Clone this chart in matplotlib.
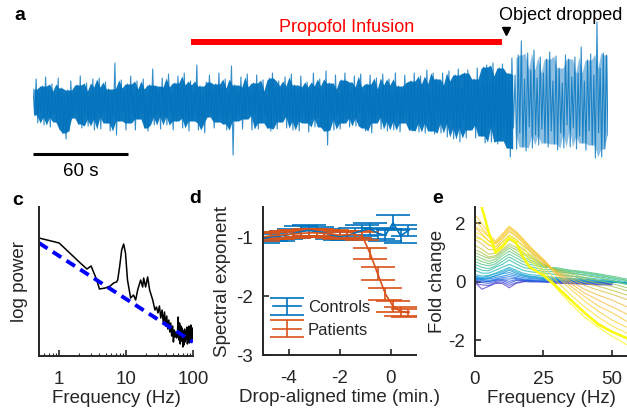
import numpy as np
import matplotlib.pyplot as plt
from matplotlib.colors import LinearSegmentedColormap

plt.rcParams['font.family'] = ['Liberation Sans', 'DejaVu Sans']
plt.rcParams['font.size'] = 13.5
plt.rcParams['axes.linewidth'] = 1.4
plt.rcParams['axes.edgecolor'] = '#262626'
plt.rcParams['text.color'] = '#262626'
plt.rcParams['axes.labelcolor'] = '#262626'
plt.rcParams['xtick.color'] = '#262626'
plt.rcParams['ytick.color'] = '#262626'

# --- panel a: EEG trace, upper / lower excursion per 2 s bin (a.u.)
trace_hi = [14, 24, 10, 17, 26, 12, 19, 9, 25, 15,
            6, 13, 22, 11, 18, 27, 12, 20, 10, 24,
            16, 25, 11, 21, 14, 10, 40, 15, 23, 12,
            19, 27, 11, 22, 14, 24, 9, 18, 34, 17,
            13, 25, 16, 29, 11, 20, 27, 14, 30, 18,
            22, 12, 38, 17, 10, 21, 28, 13, 19, 30,
            15, 24, 11, 37, 18, 12, 26, 16, 29, 13,
            20, 28, 12, 23, 9, 25, 30, 14, 22, 17,
            26, 13, 29, 18, 11, 27, 16, 21, 12, 30,
            17, 24, 12, 32, 20, 14, 28, 11, 23, 30,
            21, 12, 27, 16, 29, 11, 19, 28, 14, 25,
            13, 29, 18, 24, 10, 30, 17, 12, 28, 20,
            22, 30, 14, 27, 19, 33, 12, 30, 24, 18,
            30, 17, 32, 22, 28, 34, 15, 30, 33, 21,
            24, 35, 18, 36, 38, 20, 40, 27, 35, 39,
            30, 22, 45, 28, 48, 62, 24, 50, 33, 53,
            25, 46, 30, 44, 51, 22, 47, 35, 20, 48,
            44, 26, 46, 30, 56, 22, 43, 49, 28, 81, 35, 50, 48]
trace_lo = [-12, -20, -9, -22, -14, -24, -11, -19, -26, -30,
            -36, -28, -15, -10, -21, -25, -12, -23, -16, -27,
            -14, -26, -11, -20, -28, -13, -32, -18, -10, -27,
            -20, -12, -27, -16, -10, -25, -28, -14, -22, -11,
            -26, -13, -22, -10, -27, -18, -12, -25, -15, -28,
            -18, -11, -27, -20, -30, -14, -10, -25, -19, -13,
            -21, -27, -12, -52, -18, -11, -26, -16, -10, -27,
            -12, -26, -20, -11, -25, -28, -14, -26, -19, -10,
            -25, -13, -27, -18, -28, -11, -20, -29, -15, -24,
            -14, -24, -28, -42, -16, -27, -12, -26, -20, -13,
            -24, -15, -23, -11, -25, -28, -14, -30, -20, -12,
            -26, -14, -28, -18, -27, -13, -29, -20, -11, -27,
            -28, -15, -29, -20, -30, -14, -28, -31, -17, -30,
            -20, -34, -16, -36, -25, -39, -18, -35, -27, -22,
            -35, -20, -33, -40, -24, -39, -22, -41, -38, -25,
            -45, -54, -25, -46, -30, -44, -48, -24, -45, -32,
            -42, -26, -40, -44, -28, -41, -47, -30, -45, -22,
            -44, -25, -46, -33, -40, -47, -28, -42, -55, -30, -54, -46, -32]
infusion_start, infusion_end = 100, 298   # s
drop_time = 300                           # s

# --- panel c: power spectrum (log power, a.u.)
freq_c = [0.5, 1.0, 2.07, 2.6, 3.0, 3.6, 4.0, 4.9, 5.8, 6.5, 7.2, 7.5, 8.0,
          8.6, 9.2, 9.8, 10.5, 11.7, 12.9, 13.9, 14.9, 16.5, 17.7, 18.3,
          19.6, 21.0, 22.5, 25.0, 27.0, 28.5,
          30.0, 31.5, 33.0, 34.5, 36.0, 37.5, 39.0, 40.5, 42.0, 43.5, 45.0,
          46.5, 48.0, 49.5, 51.0, 52.5, 54.0, 55.5, 57.0, 58.5, 60.0, 61.5,
          63.0, 64.5, 66.0, 67.5, 69.0, 70.5, 72.0, 73.5, 75.0, 76.5, 78.0,
          79.5, 81.0, 82.5, 84.0, 85.5, 87.0, 88.5, 90.0, 91.5, 93.0, 94.5,
          96.0, 97.5, 99.0, 100.0]
power_c = [118, 113, 93, 87, 90, 77, 67, 68, 70, 73, 74, 76, 89,
           106, 112, 103, 76, 58, 61, 56, 66, 76, 69, 78,
           69, 79, 66, 56, 46, 49,
           43, 50, 38, 46, 33, 44, 30, 40, 27, 36, 24,
           33, 20, 30, 14, 26, 19, 24, 18, 22, 39, 16,
           33, 12, 30, 15, 28, 9, 25, 11, 27, 14, 24,
           17, 29, 12, 26, 16, 30, 13, 24, 18, 31, 14,
           22, 19, 28, 17]
fit_freq = [0.5, 100]
fit_power = [113, 14]

# --- panel d: spectral exponent, drop-aligned
time_d = [-5.0, -4.7, -4.4, -4.1, -3.8, -3.5, -3.2, -2.9, -2.6, -2.3,
          -2.0, -1.7, -1.4, -1.1, -0.8, -0.5, -0.2, 0.1, 0.4, 0.7]
controls_mean = [-1.02, -0.99, -0.98, -0.96, -0.93, -0.90, -0.88, -0.90, -0.92, -0.96,
                 -0.98, -0.97, -0.92, -0.88, -0.85, -0.93, -0.96, -0.75, -0.97, -0.88]
controls_err = [0.08, 0.07, 0.08, 0.07, 0.08, 0.09, 0.10, 0.08, 0.07, 0.07,
                0.07, 0.08, 0.09, 0.09, 0.10, 0.10, 0.10, 0.13, 0.12, 0.09]
patients_mean = [-0.99, -0.97, -0.96, -0.95, -0.94, -0.93, -0.92, -0.92, -0.93, -0.94,
                 -0.96, -0.95, -0.95, -0.98, -1.27, -1.62, -1.96, -2.17, -2.26, -2.28]
patients_err = [0.07, 0.06, 0.06, 0.06, 0.06, 0.06, 0.06, 0.06, 0.06, 0.06,
                0.06, 0.06, 0.06, 0.07, 0.10, 0.11, 0.10, 0.09, 0.08, 0.07]

# --- panel e: fold change spectra over time (blue = early, yellow = late)
freq_e = [0, 2.5, 5, 7.5, 10, 12.5, 15, 17.5, 20, 25, 30, 35, 40, 45, 50, 55.5]
nan = np.nan
fold_lines = [
    [0.00, -0.25, -0.15, -0.05, -0.05, -0.20, -0.05, 0.00, 0.05, 0.02, -0.05, -0.05, -0.08, -0.10, -0.10, nan],
    [-0.05, -0.10, -0.12, -0.02, 0.00, -0.12, -0.02, 0.02, 0.00, 0.00, -0.02, -0.06, -0.05, -0.08, -0.08, nan],
    [0.05, -0.02, -0.05, 0.02, 0.05, -0.05, 0.05, 0.05, 0.02, 0.02, 0.00, -0.02, -0.04, -0.05, -0.06, nan],
    [0.08, 0.00, 0.02, 0.05, 0.08, 0.02, 0.08, 0.06, 0.04, 0.00, 0.02, 0.00, -0.02, -0.03, -0.04, nan],
    [0.10, 0.05, 0.00, 0.08, 0.10, 0.10, 0.12, 0.08, 0.05, 0.02, 0.00, 0.02, 0.00, -0.02, -0.02, nan],
    [0.15, 0.08, 0.05, 0.10, 0.15, 0.18, 0.15, 0.10, 0.08, 0.05, 0.03, 0.02, 0.00, 0.00, -0.02, nan],
    [0.12, 0.10, 0.10, 0.15, 0.20, 0.25, 0.20, 0.15, 0.12, 0.08, 0.05, 0.05, 0.02, 0.00, 0.00, -0.02],
    [0.18, 0.12, 0.15, 0.20, 0.28, 0.32, 0.25, 0.20, 0.15, 0.10, 0.08, 0.05, 0.05, 0.02, 0.00, -0.03],
    [0.10, 0.10, 0.12, 0.22, 0.30, 0.40, 0.30, 0.22, 0.18, 0.12, 0.10, 0.08, 0.05, 0.02, 0.00, -0.05],
    [0.20, 0.15, 0.20, 0.28, 0.35, 0.45, 0.35, 0.25, 0.20, 0.15, 0.12, 0.10, 0.08, 0.05, 0.02, -0.05],
    [0.25, 0.20, 0.22, 0.30, 0.40, 0.50, 0.40, 0.30, 0.25, 0.20, 0.15, 0.12, 0.10, 0.05, 0.02, -0.08],
    [0.40, 0.30, 0.30, 0.40, 0.50, 0.60, 0.50, 0.40, 0.35, 0.30, 0.25, 0.20, 0.15, 0.10, 0.05, -0.05],
    [0.50, 0.40, 0.38, 0.50, 0.60, 0.75, 0.62, 0.50, 0.45, 0.35, 0.35, 0.30, 0.25, 0.18, 0.10, 0.00],
    [0.60, 0.50, 0.45, 0.55, 0.70, 0.85, 0.72, 0.60, 0.52, 0.42, 0.42, 0.35, 0.30, 0.22, 0.15, 0.05],
    [0.70, 0.60, 0.55, 0.62, 0.80, 0.95, 0.82, 0.70, 0.60, 0.50, 0.48, 0.40, 0.35, 0.28, 0.20, 0.10],
    [0.80, 0.70, 0.62, 0.70, 0.90, 1.05, 0.92, 0.78, 0.68, 0.52, 0.45, 0.38, 0.32, 0.25, 0.15, 0.05],
    [0.90, 0.80, 0.70, 0.78, 0.98, 1.15, 1.00, 0.85, 0.75, 0.55, 0.42, 0.32, 0.22, 0.15, 0.05, -0.08],
    [1.00, 0.90, 0.80, 0.85, 1.05, 1.22, 1.10, 0.95, 0.82, 0.58, 0.40, 0.28, 0.15, 0.05, -0.05, -0.20],
    [1.10, 1.00, 0.85, 0.90, 1.10, 1.30, 1.18, 1.00, 0.88, 0.60, 0.38, 0.22, 0.08, -0.05, -0.15, -0.30],
    [1.25, 1.12, 0.95, 0.98, 1.20, 1.45, 1.30, 1.12, 0.95, 0.62, 0.35, 0.15, -0.02, -0.15, -0.28, -0.45],
    [1.45, 1.30, 1.10, 1.10, 1.35, 1.60, 1.45, 1.25, 1.05, 0.68, 0.32, 0.10, -0.12, -0.28, -0.42, -0.60],
    [1.60, 1.45, 1.25, 1.20, 1.45, 1.72, 1.55, 1.35, 1.10, 0.70, 0.30, 0.02, -0.25, -0.45, -0.62, -0.85],
    [1.85, 1.65, 1.40, 1.30, 1.55, 1.82, 1.65, 1.42, 1.15, 0.75, 0.28, -0.05, -0.38, -0.62, -0.85, -1.10],
    [2.10, 1.85, 1.55, 1.35, 1.60, 1.88, 1.70, 1.45, 1.20, 0.78, 0.25, -0.15, -0.50, -0.82, -1.05, -1.35],
    [2.30, 2.00, 1.65, 1.40, 1.65, 1.90, 1.72, 1.48, 1.22, 0.72, 0.18, -0.25, -0.65, -1.00, -1.30, -1.55],
    [1.90, 1.75, 1.55, 1.30, 1.50, 1.75, 1.60, 1.35, 1.05, 0.55, 0.00, -0.45, -0.85, -1.20, -1.50, -1.75],
    [1.70, 1.60, 1.40, 1.20, 1.35, 1.60, 1.45, 1.20, 0.90, 0.40, -0.15, -0.60, -1.05, -1.40, -1.70, -1.95],
    [1.50, 1.45, 1.30, 1.10, 1.25, 1.50, 1.30, 1.05, 0.75, 0.30, -0.25, -0.75, -1.20, -1.55, -1.85, -2.15],
]
fold_last = [3.30, 2.55, 1.70, 1.00, 1.20, 1.50, 1.35, 0.85, 0.50, 0.22, -0.18, -0.62, -1.05, -1.45, -1.70, -1.92]

parula_like = LinearSegmentedColormap.from_list('parula_like', [
    (0.00, (0.28, 0.20, 0.78)), (0.15, (0.10, 0.40, 0.90)), (0.30, (0.05, 0.60, 0.85)),
    (0.42, (0.10, 0.72, 0.72)), (0.55, (0.35, 0.78, 0.45)), (0.68, (0.70, 0.76, 0.25)),
    (0.80, (0.98, 0.72, 0.25)), (0.90, (0.97, 0.82, 0.18)), (1.00, (0.98, 0.98, 0.05))])

mat_blue = (0.0, 0.447, 0.741)
mat_orange = (0.85, 0.325, 0.098)

fig = plt.figure(figsize=(6.27, 4.11), dpi=100)


def px_axes(left, top, right, bottom):
    return fig.add_axes([left / 627, 1 - bottom / 411, (right - left) / 627, (bottom - top) / 411])


def matlab_style(ax):
    for s in ('top', 'right'):
        ax.spines[s].set_visible(False)
    ax.tick_params(direction='in', length=4, width=1.2)
    ax.tick_params(axis='x', pad=11)
    ax.tick_params(axis='y', pad=7)


# panel a: dense core (typical excursion of neighbouring bins) plus the thin excursions;
# after the drop the slow, large waves leave gaps, so the core is lighter there
ax_a = px_axes(33, 0, 608, 190)
ax_a.axis('off')
hi = np.array(trace_hi, float)
lo = np.array(trace_lo, float)
pad_hi = np.concatenate([[hi[0]], hi, [hi[-1]]])
pad_lo = np.concatenate([[lo[0]], lo, [lo[-1]]])
core_hi = np.median(np.vstack([pad_hi[:-2], pad_hi[1:-1], pad_hi[2:]]), axis=0)
core_lo = np.median(np.vstack([pad_lo[:-2], pad_lo[1:-1], pad_lo[2:]]), axis=0)
t_bin = np.arange(len(hi)) * 2.0 + 0.5
before = t_bin <= drop_time + 6
ax_a.fill_between(t_bin, core_lo, core_hi, where=before, color=mat_blue, lw=0, alpha=0.95)
ax_a.fill_between(t_bin, core_lo, core_hi, where=t_bin >= drop_time + 6,
                  color=mat_blue, lw=0, alpha=0.45)
trace = np.empty(2 * len(hi))
trace[0::2] = hi
trace[1::2] = lo
t = np.arange(len(trace)) * 1.0
ax_a.plot(t, trace, color=mat_blue, lw=0.8, alpha=0.8)
ax_a.set_xlim(0, 365)
ax_a.set_ylim(-87, 103)
ax_a.hlines(61, infusion_start, infusion_end, color='red', lw=4.3)
ax_a.text((infusion_start + infusion_end) / 2, 76, 'Propofol Infusion', color='red',
          ha='center', va='center', fontsize=13)
ax_a.plot([drop_time], [72], marker='v', color='black', ms=6, clip_on=False)
ax_a.text(drop_time + 35, 88, 'Object dropped', color='black', ha='center', va='center',
          fontsize=13, clip_on=False)
ax_a.hlines(-51, 0, 60, color='black', lw=2.2)
ax_a.text(30, -69, '60 s', ha='center', va='center', fontsize=13.5, color='black')

# panel c
ax_c = px_axes(39, 207, 193, 356)
matlab_style(ax_c)
ax_c.plot(freq_c, power_c, color='black', lw=1.1)
ax_c.plot(fit_freq, fit_power, color='blue', lw=2.8, ls=(0, (2.6, 1.6)))
ax_c.set_xscale('log')
ax_c.set_xlim(0.5, 100)
ax_c.set_ylim(0, 149)
ax_c.set_yticks([])
ax_c.set_xticks([1, 10, 100])
ax_c.set_xticklabels(['1', '10', '100'])
ax_c.tick_params(axis='x', which='minor', direction='in', length=2.5, width=0.8)
ax_c.set_xlabel('Frequency (Hz)', labelpad=1)
ax_c.set_ylabel('log power', labelpad=8)

# panel d
ax_d = px_axes(263, 207, 416, 355)
matlab_style(ax_d)
for mean, err, col, lab in [(controls_mean, controls_err, mat_blue, 'Controls'),
                            (patients_mean, patients_err, mat_orange, 'Patients')]:
    ax_d.errorbar(time_d, mean, yerr=err, color=col, lw=1.2, capsize=12,
                  capthick=1.2, elinewidth=1.2, label=lab)
ax_d.set_xlim(-5, 1)
ax_d.set_ylim(-3, -0.48)
ax_d.set_xticks([-4, -2, 0])
ax_d.set_xticklabels(['-4', '-2', '0'])
ax_d.set_yticks([-3, -2, -1])
ax_d.set_yticklabels(['-3', '-2', '-1'])
ax_d.set_xlabel('Drop-aligned time (min.)', labelpad=1)
ax_d.set_ylabel('Spectral exponent', labelpad=4)
ax_d.legend(loc='lower left', bbox_to_anchor=(0.0, 0.05), frameon=False, fontsize=12,
            handlelength=1.7, handletextpad=0.4, labelspacing=0.45, borderaxespad=0.2)

# panel e
ax_e = px_axes(475, 207, 627, 356)
matlab_style(ax_e)
n_lines = len(fold_lines)
for i, row in enumerate(fold_lines):
    ax_e.plot(freq_e, row, color=parula_like(i / (n_lines - 1)), lw=0.8, alpha=0.75)
ax_e.plot(freq_e, fold_last, color=parula_like(1.0), lw=1.8)
ax_e.set_xlim(0, 55.5)
ax_e.set_ylim(-2.53, 2.56)
ax_e.set_xticks([0, 25, 50])
ax_e.set_yticks([-2, 0, 2])
ax_e.set_yticklabels(['-2', '0', '2'])
ax_e.set_xlabel('Frequency (Hz)', labelpad=1)
ax_e.set_ylabel('Fold change', labelpad=2)

# panel letters
for letter, x, y in [('a', 20, 15), ('c', 18, 200), ('d', 195, 198), ('e', 438, 198)]:
    fig.text(x / 627, 1 - y / 411, letter, fontsize=14, fontweight='bold',
             ha='center', va='center', color='black')

fig.savefig('out.png', dpi=100)
